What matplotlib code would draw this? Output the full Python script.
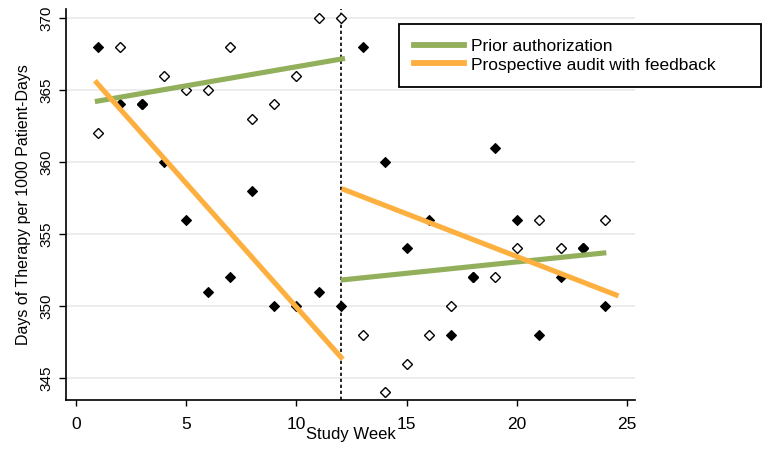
import matplotlib
matplotlib.use("Agg")
import matplotlib.pyplot as plt
from matplotlib.lines import Line2D

# ---- data ----
weeks = list(range(1, 25))
filled_vals = [368, 364, 364, 360, 356, 351, 352, 358, 350, 350, 351, 350,
               368, 360, 354, 356, 348, 352, 361, 356, 348, 352, 354, 350]
open_vals = [362, 368, 364, 366, 365, 365, 368, 363, 364, 366, 370, 370,
             348, 344, 346, 348, 350, 352, 352, 354, 356, 354, 354, 356]

# fitted segments (x start/end, y start/end)
prior_pre_x = [0.86, 12.2]
prior_pre_y = [364.2, 367.2]
prior_post_x = [12.0, 24.05]
prior_post_y = [351.8, 353.7]
audit_pre_x = [0.86, 12.1]
audit_pre_y = [365.65, 346.3]
audit_post_x = [12.05, 24.6]
audit_post_y = [358.15, 350.7]

intervention_week = 12
labels = ["Prior authorization", "Prospective audit with feedback"]
green = "#92AF5B"
orange = "#FDB03F"

xticks = [0, 5, 10, 15, 20, 25]
yticks = [345, 350, 355, 360, 365, 370]

plt.rcParams['font.family'] = ['Liberation Sans', 'DejaVu Sans']

fig = plt.figure(figsize=(7.69, 4.49), dpi=100)
ax = fig.add_axes([66/769, 1-400/449, (635-66)/769, (400-9)/449])

ax.set_xlim(-0.45, 25.35)
ax.set_ylim(343.47, 370.63)

for y in yticks:
    ax.axhline(y, color="#EAEAEA", lw=1.3, zorder=0)

ax.axvline(intervention_week, color="black", lw=1.2, linestyle=(0, (2, 1.6)), zorder=1)

ax.plot(weeks, open_vals, linestyle="none", marker="D", ms=5.2,
        mfc="white", mec="black", mew=1.0, zorder=2)
ax.plot(weeks, filled_vals, linestyle="none", marker="D", ms=5.6,
        mfc="black", mec="black", mew=0.8, zorder=3)

lw = 3.7
ax.plot(prior_pre_x, prior_pre_y, color=green, lw=lw, solid_capstyle="butt", zorder=4)
ax.plot(prior_post_x, prior_post_y, color=green, lw=lw, solid_capstyle="butt", zorder=4)
ax.plot(audit_pre_x, audit_pre_y, color=orange, lw=lw, solid_capstyle="butt", zorder=5)
ax.plot(audit_post_x, audit_post_y, color=orange, lw=lw, solid_capstyle="butt", zorder=5)

ax.set_xticks(xticks)
ax.set_yticks(yticks)
ax.tick_params(axis="x", labelsize=12.5, length=4, width=1, pad=8)
ax.tick_params(axis="y", labelsize=11, length=5, width=1, pad=4, labelrotation=90)
for lab in ax.get_yticklabels():
    lab.set_va("center")

for s in ["top", "right"]:
    ax.spines[s].set_visible(False)
for s in ["left", "bottom"]:
    ax.spines[s].set_linewidth(1.2)

ax.set_ylabel("Days of Therapy per 1000 Patient-Days", fontsize=11.5, labelpad=6)
ax.set_xlabel("Study Week", fontsize=12, labelpad=-3)

handles = [Line2D([], [], color=green, lw=4.2),
           Line2D([], [], color=orange, lw=4.2)]
leg = fig.legend(handles, labels, loc="upper left",
                 bbox_to_anchor=(399/769, 1-24/449, (761-399)/769, 0.0),
                 mode="expand", borderaxespad=0, fontsize=12.5,
                 handlelength=2.9, handletextpad=0.4, labelspacing=0.2,
                 borderpad=0.85, fancybox=False, framealpha=1)
leg.get_frame().set_edgecolor("black")
leg.get_frame().set_linewidth(1.3)

fig.savefig("out.png", dpi=100)
